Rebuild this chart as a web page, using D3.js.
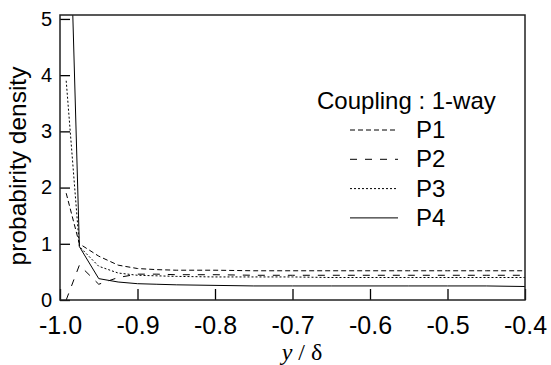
<html>
<head>
<meta charset="utf-8">
<title>Probability density</title>
<script src="https://d3js.org/d3.v7.min.js"></script>
<style>
  body { margin: 0; background: #fff; }
  text { font-family: "Liberation Sans", Arial, sans-serif; fill: #000; }
</style>
</head>
<body>
<script>
// data
var xs = [-0.992, -0.975, -0.95, -0.925, -0.9, -0.875, -0.85, -0.8, -0.75, -0.7, -0.65, -0.6, -0.55, -0.5, -0.45, -0.4];
var p1 = [1.9, 1.0, 0.78, 0.62, 0.56, 0.54, 0.53, 0.53, 0.52, 0.52, 0.52, 0.52, 0.52, 0.52, 0.52, 0.52];
var p2 = [0.0, 0.62, 0.28, 0.40, 0.46, 0.46, 0.45, 0.45, 0.44, 0.44, 0.44, 0.44, 0.44, 0.44, 0.44, 0.44];
var p3 = [3.9, 0.95, 0.60, 0.48, 0.44, 0.43, 0.42, 0.41, 0.41, 0.41, 0.40, 0.40, 0.40, 0.40, 0.40, 0.40];
var p4 = [9.2, 0.95, 0.38, 0.32, 0.29, 0.28, 0.27, 0.26, 0.25, 0.25, 0.25, 0.25, 0.25, 0.25, 0.25, 0.24];
var seriesNames = ["P1", "P2", "P3", "P4"];
var xTicks = [-1.0, -0.9, -0.8, -0.7, -0.6, -0.5, -0.4];
var yTicks = [0, 1, 2, 3, 4, 5];

var w = 551, h = 365;
var mLeft = 60, mRight = 525, mTop = 15, mBottom = 300;

var svg = d3.select("body").append("svg")
    .attr("width", w)
    .attr("height", h);

var x = d3.scaleLinear().domain([-1.0, -0.4]).range([mLeft, mRight]);
var y = d3.scaleLinear().domain([0, 5.07]).range([mBottom, mTop]);

svg.append("defs").append("clipPath").attr("id", "plot")
  .append("rect")
    .attr("x", mLeft).attr("y", mTop)
    .attr("width", mRight - mLeft).attr("height", mBottom - mTop);

// dash styles per series
var dashes = ["5,3", "7,8", "2,2", null];
var allSeries = [p1, p2, p3, p4];

var line = d3.line()
    .x(function(d, i) { return x(xs[i]); })
    .y(function(d) { return y(d); });

svg.append("g").attr("clip-path", "url(#plot)")
  .selectAll("path")
  .data(allSeries)
  .enter()
  .append("path")
    .attr("d", line)
    .attr("fill", "none")
    .attr("stroke", "#000")
    .attr("stroke-width", 1)
    .attr("stroke-dasharray", function(d, i) { return dashes[i]; });

// plain hyphen minus, one decimal
var fmt1 = function(d) { return (d < 0 ? "-" : "") + Math.abs(d).toFixed(1); };

// axes, ticks point inward
var xAxis = d3.axisBottom(x).tickValues(xTicks).tickSizeInner(-11).tickSizeOuter(0)
    .tickFormat(fmt1).tickPadding(16);
var gx = svg.append("g").attr("transform", "translate(0," + mBottom + ")").call(xAxis);
gx.select(".domain").remove();
gx.selectAll("line").attr("stroke", "#000").attr("stroke-width", 1.3);
gx.selectAll("text")
    .attr("font-size", 25)
    .attr("font-family", "Liberation Sans, Arial, sans-serif");

var yAxis = d3.axisLeft(y).tickValues(yTicks).tickSizeInner(-10).tickSizeOuter(0)
    .tickFormat(d3.format("d")).tickPadding(8);
var gy = svg.append("g").attr("transform", "translate(" + mLeft + ",0)").call(yAxis);
gy.select(".domain").remove();
gy.selectAll("line").attr("stroke", "#000").attr("stroke-width", 1.3);
gy.selectAll("text")
    .attr("font-size", 20)
    .attr("font-family", "Liberation Sans, Arial, sans-serif");

// frame
svg.append("rect")
    .attr("x", mLeft).attr("y", mTop)
    .attr("width", mRight - mLeft).attr("height", mBottom - mTop)
    .attr("fill", "none")
    .attr("stroke", "#222")
    .attr("stroke-width", 1.5);

// axis titles
svg.append("text")
    .attr("transform", "translate(26,166) rotate(-90)")
    .attr("text-anchor", "middle")
    .attr("font-size", 24.5)
    .text("probabirity density");

var xt = svg.append("text")
    .attr("x", 302).attr("y", 360)
    .attr("text-anchor", "middle")
    .attr("font-size", 24)
    .style("font-family", "Liberation Serif, Times New Roman, serif");
xt.append("tspan").attr("font-style", "italic").text("y");
xt.append("tspan").text(" / \u03b4");

// legend
svg.append("text")
    .attr("x", 317).attr("y", 109)
    .attr("font-size", 24)
    .text("Coupling : 1-way");

var leg = svg.selectAll(".leg")
  .data(seriesNames)
  .enter()
  .append("g")
    .attr("class", "leg")
    .attr("transform", function(d, i) { return "translate(0," + (138 + i * 29.3) + ")"; });

leg.append("line")
    .attr("x1", 350).attr("x2", 398)
    .attr("y1", -8).attr("y2", -8)
    .attr("stroke", "#000")
    .attr("stroke-width", 1)
    .attr("stroke-dasharray", function(d, i) { return dashes[i]; });

leg.append("text")
    .attr("x", 416).attr("y", 0)
    .attr("font-size", 24)
    .text(function(d) { return d; });
</script>
</body>
</html>
